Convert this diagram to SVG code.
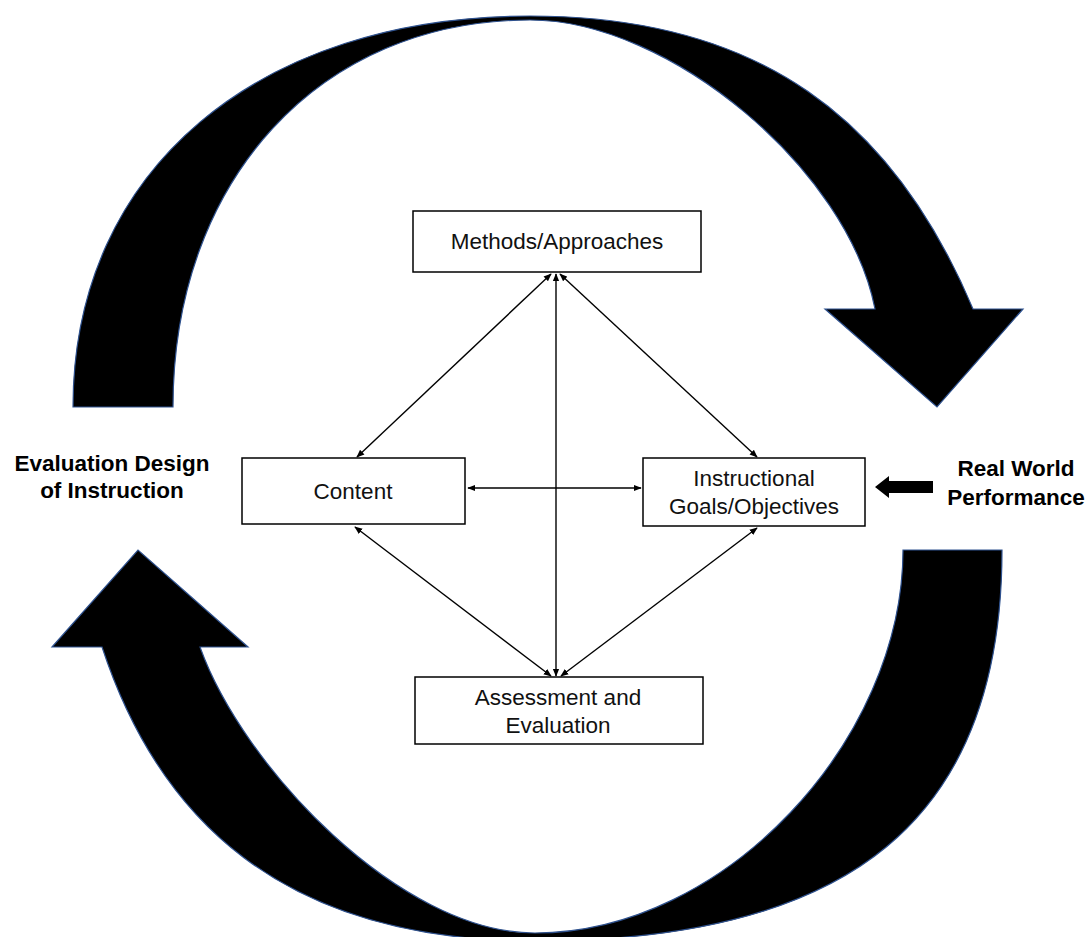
<svg xmlns="http://www.w3.org/2000/svg" width="1090" height="937" viewBox="0 0 1090 937">
<defs>
<style>
.big{fill:#000;stroke:#2F528F;stroke-width:1.2;stroke-linejoin:miter}
.box{fill:#fff;stroke:#000;stroke-width:1.5}
.t{font-family:"Liberation Sans",Arial,sans-serif;font-size:22.5px;fill:#111;text-anchor:middle}
.b{font-family:"Liberation Sans",Arial,sans-serif;font-size:22.5px;font-weight:bold;fill:#000;text-anchor:middle}
.c{stroke:#000;stroke-width:1.4;fill:none;marker-start:url(#ah);marker-end:url(#ah)}
</style>
<marker id="ah" viewBox="0 0 10 10" refX="9" refY="5" markerWidth="8" markerHeight="8" markerUnits="userSpaceOnUse" orient="auto-start-reverse">
<path d="M0,1 L10,5 L0,9 Z" fill="#000"/>
</marker>
</defs>
<rect width="1090" height="937" fill="#fff"/>
<g id="cycle-top">
<path class="big" d="M73,407 C73,168 260,16 530,16 C760,16 893,119 973,309 L1023,309 L937,407 L825,309 L875,309 C848,170 670,20 530,20 C320,20 173,180 173,407 Z"/>
</g>
<g id="cycle-bottom">
<path class="big" d="M903,550 L1002,550 C1002,820 850,941 535,941 C280,941 158,817 102,647 L52,647 L138,550 L248,647 L200,647 C243,767 400,933 535,933 C725,933 903,740 903,550 Z"/>
</g>
<g id="connectors">
<line class="c" x1="551" y1="274" x2="357" y2="457"/>
<line class="c" x1="556" y1="274" x2="556" y2="676"/>
<line class="c" x1="560" y1="274" x2="757" y2="457"/>
<line class="c" x1="468" y1="488" x2="641" y2="488"/>
<line class="c" x1="355" y1="527" x2="551" y2="676"/>
<line class="c" x1="757" y1="528" x2="561" y2="676"/>
</g>
<g id="methods">
<rect class="box" x="413" y="211" width="288" height="61"/>
<text class="t" x="557" y="249">Methods/Approaches</text>
</g>
<g id="content">
<rect class="box" x="242" y="458" width="223" height="66"/>
<text class="t" x="353" y="499">Content</text>
</g>
<g id="goals">
<rect class="box" x="643" y="458" width="222" height="68"/>
<text class="t" x="754" y="486">Instructional</text>
<text class="t" x="754" y="514">Goals/Objectives</text>
</g>
<g id="assessment">
<rect class="box" x="415" y="677" width="288" height="67"/>
<text class="t" x="558" y="705">Assessment and</text>
<text class="t" x="558" y="733">Evaluation</text>
</g>
<g id="evaluation-design">
<text class="b" x="112" y="471">Evaluation Design</text>
<text class="b" x="112" y="498">of Instruction</text>
</g>
<g id="real-world">
<polygon points="875,487 889,476 889,481 933,481 933,493 889,493 889,498" fill="#000"/>
<text class="b" x="1016" y="476">Real World</text>
<text class="b" x="1016" y="505">Performance</text>
</g>
</svg>
